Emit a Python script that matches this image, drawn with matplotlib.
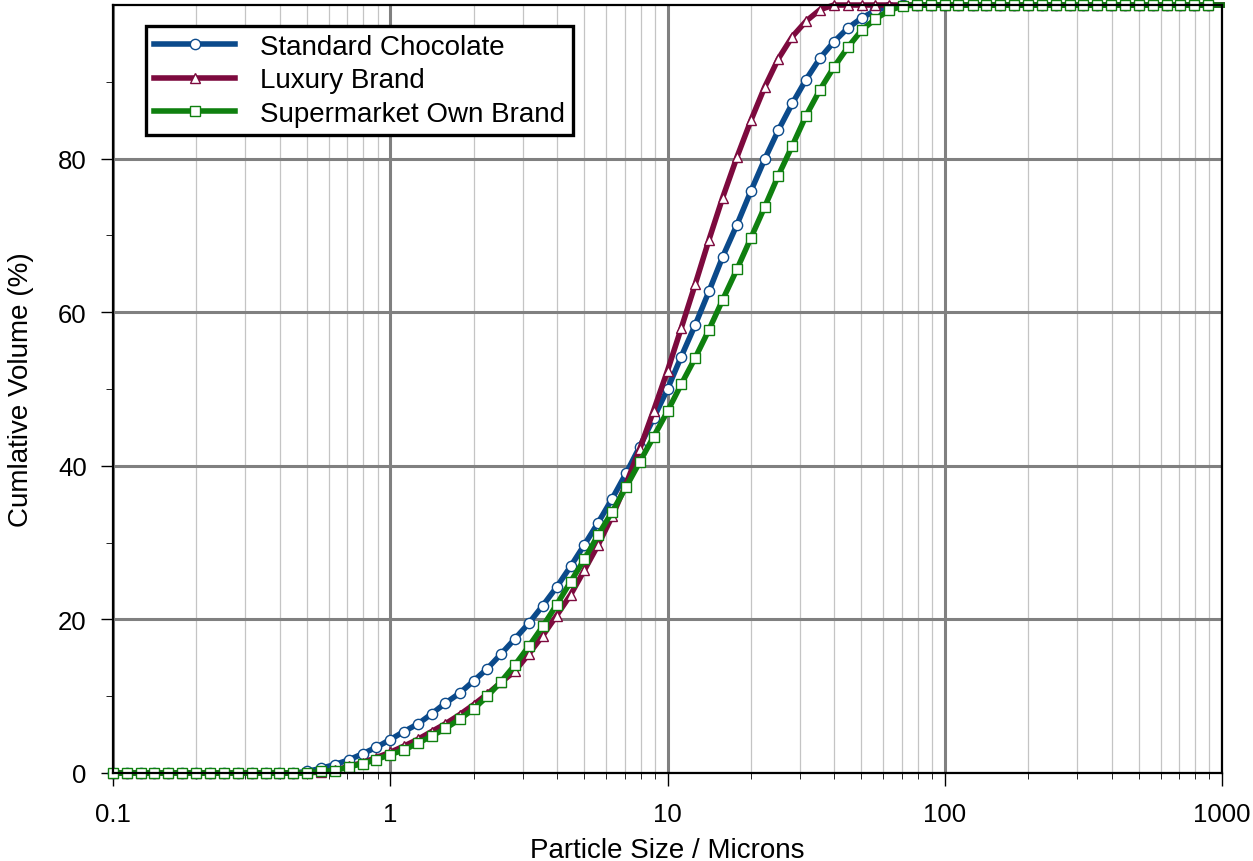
import numpy as np
import matplotlib
matplotlib.use('Agg')
import matplotlib.pyplot as plt
from matplotlib.ticker import LogLocator, NullFormatter, FixedLocator

plt.rcParams['font.family'] = ['Liberation Sans', 'DejaVu Sans']

# particle size bins (microns), 20 per decade
sizes = [0.1, 0.112, 0.126, 0.141, 0.158, 0.178, 0.2, 0.224, 0.251, 0.282,
         0.316, 0.355, 0.398, 0.447, 0.501, 0.562, 0.631, 0.708, 0.794, 0.891,
         1.0, 1.12, 1.26, 1.41, 1.58, 1.78, 2.0, 2.24, 2.51, 2.82,
         3.16, 3.55, 3.98, 4.47, 5.01, 5.62, 6.31, 7.08, 7.94, 8.91,
         10.0, 11.2, 12.6, 14.1, 15.8, 17.8, 20.0, 22.4, 25.1, 28.2,
         31.6, 35.5, 39.8, 44.7, 50.1, 56.2, 63.1, 70.8, 79.4, 89.1,
         100.0, 112, 126, 141, 158, 178, 200, 224, 251, 282,
         316, 355, 398, 447, 501, 562, 631, 708, 794, 891,
         1000.0]

standard = [0, 0, 0, 0, 0, 0, 0, 0, 0, 0,
            0, 0, 0, 0, 0.2, 0.6, 1.1, 1.7, 2.5, 3.35,
            4.35, 5.4, 6.4, 7.7, 9.1, 10.4, 12.0, 13.6, 15.5, 17.5,
            19.5, 21.8, 24.2, 26.9, 29.7, 32.6, 35.7, 39.0, 42.5, 46.2,
            50.0, 54.2, 58.4, 62.7, 67.2, 71.4, 75.8, 79.9, 83.7, 87.2,
            90.3, 93.1, 95.2, 97.0, 98.3, 99.3, 99.8, 100, 100, 100,
            100, 100, 100, 100, 100, 100, 100, 100, 100, 100,
            100, 100, 100, 100, 100, 100, 100, 100, 100, 100,
            100]

luxury = [0, 0, 0, 0, 0, 0, 0, 0, 0, 0,
          0, 0, 0, 0, 0, 0.15, 0.35, 0.85, 1.35, 2.0,
          2.7, 3.5, 4.4, 5.4, 6.4, 7.6, 8.9, 10.3, 11.8, 13.3,
          15.5, 17.9, 20.5, 23.2, 26.4, 29.7, 33.4, 37.6, 42.2, 47.2,
          52.4, 57.9, 63.7, 69.4, 74.9, 80.2, 85.0, 89.3, 93.0, 95.9,
          97.9, 99.4, 100, 100, 100, 100, 100, 100, 100, 100,
          100, 100, 100, 100, 100, 100, 100, 100, 100, 100,
          100, 100, 100, 100, 100, 100, 100, 100, 100, 100,
          100]

own_brand = [0, 0, 0, 0, 0, 0, 0, 0, 0, 0,
             0, 0, 0, 0, 0, 0.2, 0.3, 0.8, 1.2, 1.75,
             2.4, 3.0, 3.9, 4.8, 5.8, 7.0, 8.35, 10.0, 11.9, 14.1,
             16.5, 19.1, 21.9, 24.9, 27.8, 31.0, 34.0, 37.2, 40.5, 43.8,
             47.1, 50.6, 54.1, 57.7, 61.6, 65.6, 69.7, 73.7, 77.8, 81.7,
             85.6, 89.0, 91.9, 94.5, 96.7, 98.2, 99.3, 99.9, 100, 100,
             100, 100, 100, 100, 100, 100, 100, 100, 100, 100,
             100, 100, 100, 100, 100, 100, 100, 100, 100, 100,
             100]

labels = ['Standard Chocolate', 'Luxury Brand', 'Supermarket Own Brand']
colors = ['#0b4a8b', '#7d0a3e', '#0f800f']
markers = ['o', '^', 's']

fig = plt.figure(figsize=(12.53, 8.62), dpi=100)
ax = fig.add_axes([0.0902, 0.1021, 0.8851, 0.8909])

for ys, lab, col, mk in zip([standard, luxury, own_brand], labels, colors, markers):
    ax.plot(sizes, ys, color=col, lw=4.0, marker=mk, ms=7.4 if mk != '^' else 7.8,
            mfc='white', mec=col, mew=1.0, label=lab, clip_on=False,
            markevery=slice(0, len(sizes) - 1))

ax.set_xscale('log')
ax.set_xlim(0.1, 1000)
ax.set_ylim(0, 100)

ax.xaxis.set_major_locator(LogLocator(base=10, numticks=10))
ax.xaxis.set_minor_locator(LogLocator(base=10, subs=np.arange(2, 10), numticks=20))
ax.xaxis.set_minor_formatter(NullFormatter())
ax.set_xticks([0.1, 1, 10, 100, 1000])
ax.set_xticklabels(['0.1', '1', '10', '100', '1000'])

ax.yaxis.set_major_locator(FixedLocator([0, 20, 40, 60, 80]))
ax.yaxis.set_minor_locator(FixedLocator([10, 30, 50, 70, 90]))

ax.grid(which='major', color='#808080', lw=2.2)
ax.grid(which='minor', axis='x', color='#c4c4c4', lw=0.9)
ax.set_axisbelow(True)

ax.tick_params(axis='both', labelsize=18.5, direction='out', width=1.0)
ax.tick_params(axis='y', which='major', length=9, pad=10)
ax.tick_params(axis='y', which='minor', length=5)
ax.tick_params(axis='x', which='major', length=9, pad=12)
ax.tick_params(axis='x', which='minor', length=4)

for s in ax.spines.values():
    s.set_linewidth(1.6)
    s.set_color('black')

ax.set_xlabel('Particle Size / Microns', fontsize=20, labelpad=8)
ax.set_ylabel('Cumlative Volume (%)', fontsize=20, labelpad=17)

leg = ax.legend(loc='upper left', bbox_to_anchor=(0.0298, 0.973), fontsize=20,
                frameon=True, fancybox=False, framealpha=1, edgecolor='black',
                numpoints=1, handlelength=2.9, handletextpad=0.9,
                labelspacing=0.26, borderpad=0.3, borderaxespad=0)
leg.get_frame().set_linewidth(2.4)

fig.savefig('out.png', dpi=100)
